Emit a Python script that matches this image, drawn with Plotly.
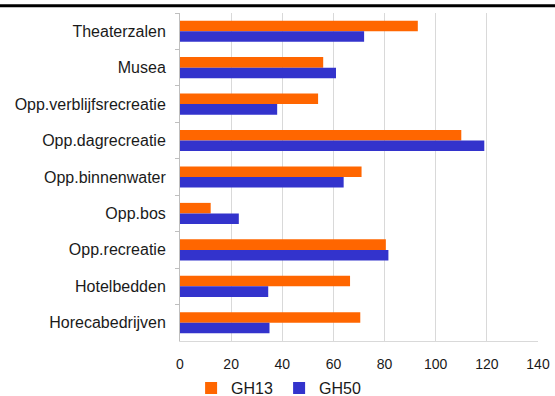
import plotly.graph_objects as go

categories = [
    "Theaterzalen",
    "Musea",
    "Opp.verblijfsrecreatie",
    "Opp.dagrecreatie",
    "Opp.binnenwater",
    "Opp.bos",
    "Opp.recreatie",
    "Hotelbedden",
    "Horecabedrijven",
]
gh13 = [93, 56, 54, 110, 71, 12, 80.5, 66.5, 70.5]
gh50 = [72, 61, 38, 119, 64, 23, 81.5, 34.5, 35]
x_ticks = [0, 20, 40, 60, 80, 100, 120, 140]

FONT = "Liberation Sans, Arial, sans-serif"

fig = go.Figure()
fig.add_trace(go.Bar(y=categories, x=gh13, name="GH13", orientation="h",
                     marker=dict(color="#FF6600", line_width=0)))
fig.add_trace(go.Bar(y=categories, x=gh50, name="GH50", orientation="h",
                     marker=dict(color="#3333CC", line_width=0)))

fig.update_layout(
    width=555, height=396,
    margin=dict(l=180, r=17, t=13, b=55, autoexpand=False),
    paper_bgcolor="white",
    plot_bgcolor="white",
    barmode="group",
    bargap=0.42,
    bargroupgap=0,
    font=dict(family=FONT, size=16, color="#1a1a1a"),
    legend=dict(orientation="h", x=0.031, xanchor="left", yref="container", y=0.02,
                yanchor="middle", font=dict(size=16), itemwidth=30,
                entrywidth=43, entrywidthmode="pixels", tracegroupgap=0),
    showlegend=True,
)
fig.update_xaxes(
    range=[0, 140], tickvals=x_ticks, showgrid=True, gridcolor="#D9D9D9", gridwidth=1,
    showline=True, linecolor="#D9D9D9", zeroline=False, tickfont=dict(size=14),
    ticks="", ticklabelstandoff=10, automargin=False,
)
fig.update_yaxes(
    autorange="reversed", showline=True, linecolor="#BFBFBF",
    ticks="outside", tickson="boundaries", ticklen=4, tickcolor="#BFBFBF",
    tickfont=dict(size=16), ticklabelstandoff=10, automargin=False,
)
# dark rule at the top of the page
fig.add_shape(type="line", xref="paper", yref="paper", x0=-1, x1=2, y0=1.022, y1=1.022,
              line=dict(color="black", width=3))

# drop the default page margin so the figure sits at the window's corner
fig.write_html("out.html", config={"displayModeBar": False},
               post_script="document.body.style.margin='0';")
